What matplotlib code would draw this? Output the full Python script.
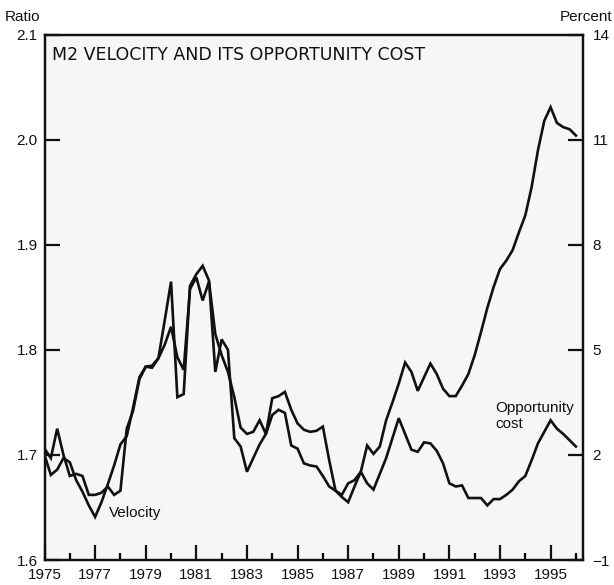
import matplotlib
matplotlib.use("Agg")
import matplotlib.pyplot as plt
from matplotlib.ticker import FixedLocator, FixedFormatter
import numpy as np

# ---- data (quarterly, 1975Q1 .. 1996Q1) ----
start_year = 1975
velocity = [
    1.700, 1.681, 1.686, 1.697,   # 1975
    1.693, 1.676, 1.665, 1.652,   # 1976
    1.641, 1.655, 1.672, 1.690,   # 1977
    1.710, 1.718, 1.745, 1.774,   # 1978
    1.784, 1.785, 1.792, 1.805,   # 1979
    1.822, 1.793, 1.781, 1.858,   # 1980
    1.869, 1.847, 1.865, 1.815,   # 1981
    1.795, 1.779, 1.755, 1.726,   # 1982
    1.720, 1.722, 1.733, 1.720,   # 1983
    1.754, 1.756, 1.760, 1.743,   # 1984
    1.730, 1.724, 1.722, 1.723,   # 1985
    1.727, 1.695, 1.666, 1.662,   # 1986
    1.673, 1.676, 1.684, 1.709,   # 1987
    1.701, 1.708, 1.733, 1.750,   # 1988
    1.768, 1.788, 1.779, 1.761,   # 1989
    1.774, 1.787, 1.777, 1.763,   # 1990
    1.756, 1.756, 1.766, 1.777,   # 1991
    1.795, 1.817, 1.840, 1.860,   # 1992
    1.877, 1.885, 1.895, 1.912,   # 1993
    1.928, 1.955, 1.990, 2.018,   # 1994
    2.031, 2.016, 2.012, 2.010,   # 1995
    2.004,                        # 1996
]
opportunity_cost = [  # percent
    2.18, 1.91, 2.75, 2.00,   # 1975
    1.40, 1.46, 1.40, 0.86,   # 1976
    0.86, 0.92, 1.10, 0.86,   # 1977
    0.98, 2.75, 3.26, 4.16,   # 1978
    4.52, 4.49, 4.76, 5.84,   # 1979
    6.95, 3.65, 3.74, 6.83,   # 1980
    7.16, 7.40, 6.98, 4.37,   # 1981
    5.30, 5.00, 2.48, 2.24,   # 1982
    1.52, 1.91, 2.30, 2.60,   # 1983
    3.14, 3.29, 3.20, 2.27,   # 1984
    2.18, 1.76, 1.70, 1.67,   # 1985
    1.40, 1.10, 0.98, 0.80,   # 1986
    0.65, 1.10, 1.52, 1.19,   # 1987
    1.01, 1.46, 1.91, 2.48,   # 1988
    3.05, 2.60, 2.15, 2.09,   # 1989
    2.36, 2.33, 2.12, 1.76,   # 1990
    1.19, 1.10, 1.13, 0.77,   # 1991
    0.77, 0.77, 0.56, 0.74,   # 1992
    0.74, 0.86, 1.01, 1.25,   # 1993
    1.40, 1.85, 2.33, 2.66,   # 1994
    2.99, 2.75, 2.60, 2.42,   # 1995
    2.24,                     # 1996
]
left_ticks = [1.6, 1.7, 1.8, 1.9, 2.0, 2.1]
left_labels = ["1.6", "1.7", "1.8", "1.9", "2.0", "2.1"]
right_ticks = [-1, 2, 5, 8, 11, 14]
right_labels = ["\u22121", "2", "5", "8", "11", "14"]
year_labels = [str(y) for y in range(1975, 1996, 2)]
minor_years = list(range(1976, 1997, 2))

title = "M2 VELOCITY AND ITS OPPORTUNITY COST"

# ---- figure ----
plt.rcParams["font.family"] = ["Liberation Sans", "DejaVu Sans"]
ink = "#111111"
fs = 11

fig = plt.figure(figsize=(6.14, 5.85), dpi=100)
ax = fig.add_axes([0.0725, 0.0427, 0.877, 0.898])
ax.set_facecolor("#f6f6f6")

x = start_year + np.arange(len(velocity)) / 4.0
ax.plot(x, velocity, color=ink, lw=1.9, solid_joinstyle="miter")
ax.set_xlim(1975, 1996.28)
ax.set_ylim(1.6, 2.1)

ax2 = ax.twinx()
x2 = start_year + np.arange(len(opportunity_cost)) / 4.0
ax2.plot(x2, opportunity_cost, color=ink, lw=1.9, solid_joinstyle="miter")
ax2.set_ylim(-1, 14)

for a in (ax, ax2):
    for s in a.spines.values():
        s.set_linewidth(1.6)
        s.set_color(ink)

ax.yaxis.set_major_locator(FixedLocator(left_ticks))
ax.yaxis.set_major_formatter(FixedFormatter(left_labels))
ax.tick_params(axis="y", direction="in", length=11, width=1.6, pad=5,
               labelsize=fs, colors=ink)
ax2.yaxis.set_major_locator(FixedLocator(right_ticks))
ax2.yaxis.set_major_formatter(FixedFormatter(right_labels))
ax2.tick_params(axis="y", direction="in", length=11, width=1.6, pad=7,
                labelsize=fs, colors=ink)

ax.xaxis.set_major_locator(FixedLocator(list(range(1975, 1996, 2))))
ax.xaxis.set_major_formatter(FixedFormatter(year_labels))
ax.xaxis.set_minor_locator(FixedLocator(minor_years))
ax.tick_params(axis="x", which="major", direction="in", length=11, width=1.6,
               pad=6, labelsize=fs, colors=ink)
ax.tick_params(axis="x", which="minor", direction="in", length=5, width=1.6)

# nudge the left labels slightly upward as in the reference
for lab in ax.get_yticklabels():
    lab.set_va("center_baseline")

ax.text(0.013, 0.978, title, transform=ax.transAxes, ha="left", va="top",
        fontsize=12.5, family=["DejaVu Sans"], color=ink)
fig.text(5 / 614, 1 - 17 / 585, "Ratio", ha="left", va="center",
         fontsize=fs, color=ink)
fig.text(612 / 614, 1 - 17 / 585, "Percent", ha="right", va="center",
         fontsize=fs, color=ink)
ax.text(1977.55, 1.645, "Velocity", ha="left", va="center",
        fontsize=fs, color=ink)
ax.text(1992.8, 1.737, "Opportunity\ncost", ha="left", va="center",
        fontsize=fs, color=ink, linespacing=1.25)

fig.savefig("out.png", dpi=100)
